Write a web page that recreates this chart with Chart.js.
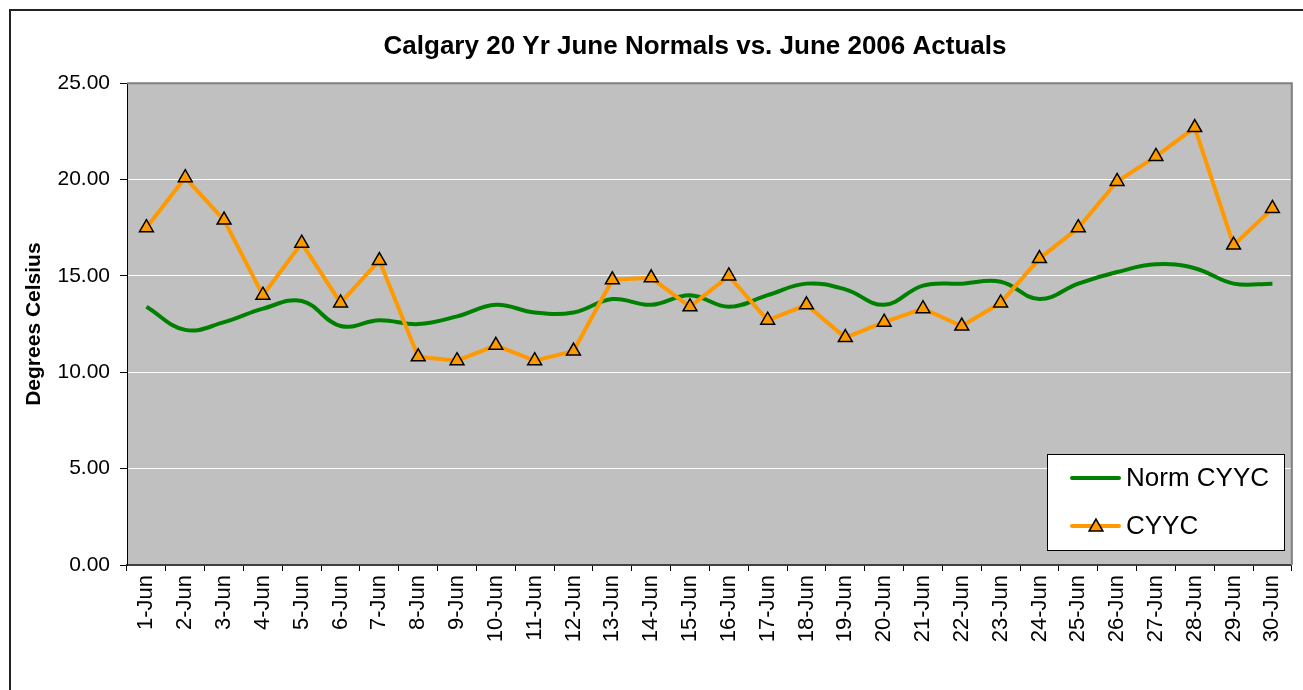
<!DOCTYPE html>
<html>
<head>
<meta charset="utf-8">
<script src="https://cdn.jsdelivr.net/npm/chart.js@4.4.0/dist/chart.umd.min.js"></script>
<style>
  html, body { margin: 0; padding: 0; background: #fff; }
  #wrap { width: 1303px; height: 690px; }
</style>
</head>
<body>
<div id="wrap"><canvas id="chart" width="1303" height="690"></canvas></div>
<script>
// Calgary June normals vs June 2006 actuals
const days = ['1-Jun','2-Jun','3-Jun','4-Jun','5-Jun','6-Jun','7-Jun','8-Jun','9-Jun','10-Jun',
  '11-Jun','12-Jun','13-Jun','14-Jun','15-Jun','16-Jun','17-Jun','18-Jun','19-Jun','20-Jun',
  '21-Jun','22-Jun','23-Jun','24-Jun','25-Jun','26-Jun','27-Jun','28-Jun','29-Jun','30-Jun'];

const normCYYC = [13.4, 12.2, 12.6, 13.3, 13.7, 12.4, 12.7, 12.5, 12.9, 13.5,
  13.1, 13.1, 13.8, 13.5, 14.0, 13.4, 14.0, 14.6, 14.3, 13.5,
  14.5, 14.6, 14.7, 13.8, 14.6, 15.2, 15.6, 15.4, 14.6, 14.6];

const actualCYYC = [17.5, 20.1, 17.9, 14.0, 16.7, 13.6, 15.8, 10.8, 10.6, 11.4,
  10.6, 11.1, 14.8, 14.9, 13.4, 15.0, 12.7, 13.5, 11.8, 12.6,
  13.3, 12.4, 13.6, 15.9, 17.5, 19.9, 21.2, 22.7, 16.6, 18.5];

const FONT = "'Liberation Sans', Arial, Helvetica, sans-serif";
const PLOT_BG = '#c0c0c0';
const GREEN = '#008000';
const ORANGE = '#ff9900';

// frame, plot background and in-plot legend (Excel style)
const excelFrame = {
  id: 'excelFrame',
  afterLayout(chart) {
    // Excel centres the title a bit right of the canvas centre
    const tb = chart.titleBlock;
    if (tb) { tb.left += 44; tb.right += 44; }
  },
  beforeDraw(chart) {
    const { ctx, chartArea: a } = chart;
    ctx.save();
    ctx.fillStyle = '#fff';
    ctx.fillRect(0, 0, chart.width, chart.height);
    ctx.strokeStyle = '#222';
    ctx.lineWidth = 2;
    ctx.strokeRect(10, 10, chart.width + 20, chart.height + 20);
    ctx.fillStyle = PLOT_BG;
    ctx.fillRect(a.left, a.top, a.right - a.left, a.bottom - a.top);
    ctx.restore();
  },
  afterDraw(chart) {
    const { ctx, chartArea: a } = chart;
    ctx.save();
    ctx.strokeStyle = '#808080';
    ctx.lineWidth = 2;
    ctx.beginPath();
    ctx.moveTo(a.left, a.top);
    ctx.lineTo(a.right, a.top);
    ctx.lineTo(a.right, a.bottom);
    ctx.stroke();

    // legend box
    const bx = 1047, by = 454, bw = 237, bh = 96;
    ctx.fillStyle = '#fff';
    ctx.fillRect(bx, by, bw, bh);
    ctx.strokeStyle = '#000';
    ctx.lineWidth = 1;
    ctx.strokeRect(bx + 0.5, by + 0.5, bw, bh);

    const rows = [
      { ds: chart.data.datasets[0], y: 478 },
      { ds: chart.data.datasets[1], y: 526 }
    ];
    rows.forEach(r => {
      ctx.strokeStyle = r.ds.borderColor;
      ctx.lineWidth = 4;
      ctx.lineCap = 'round';
      ctx.beginPath();
      ctx.moveTo(1072, r.y);
      ctx.lineTo(1119, r.y);
      ctx.stroke();
      if (r.ds.pointRadius > 0) {
        ctx.fillStyle = r.ds.pointBackgroundColor;
        ctx.strokeStyle = r.ds.pointBorderColor;
        ctx.lineWidth = r.ds.pointBorderWidth;
        Chart.helpers.drawPoint(ctx, { pointStyle: 'triangle', radius: 8, rotation: 0, borderWidth: r.ds.pointBorderWidth }, 1096, r.y + 1);
      }
      ctx.fillStyle = '#000';
      ctx.font = '26px ' + FONT;
      ctx.textBaseline = 'middle';
      ctx.textAlign = 'left';
      ctx.fillText(r.ds.label, 1126, r.y + 1);
    });
    ctx.restore();
  }
};

new Chart(document.getElementById('chart'), {
  type: 'line',
  data: {
    labels: days,
    datasets: [
      {
        label: 'Norm CYYC',
        data: normCYYC,
        borderColor: GREEN,
        borderWidth: 4,
        pointRadius: 0,
        tension: 0.4,
        order: 1
      },
      {
        label: 'CYYC',
        data: actualCYYC,
        borderColor: ORANGE,
        borderWidth: 4,
        pointStyle: 'triangle',
        pointRadius: 8,
        pointBackgroundColor: ORANGE,
        pointBorderColor: '#000',
        pointBorderWidth: 1.5,
        tension: 0,
        order: 0
      }
    ]
  },
  options: {
    responsive: false,
    animation: false,
    events: [],
    layout: { padding: { left: 10, right: 11, top: 0, bottom: 0 } },
    plugins: {
      legend: { display: false },
      tooltip: { enabled: false },
      title: {
        display: true,
        text: 'Calgary 20 Yr June Normals vs. June 2006 Actuals',
        color: '#000',
        font: { family: FONT, size: 26, weight: 'bold', lineHeight: 1.2 },
        padding: { top: 31, bottom: 21 }
      }
    },
    scales: {
      x: {
        type: 'category',
        offset: true,
        grid: { offset: true, drawOnChartArea: false, drawTicks: true, tickLength: 6, color: '#000', lineWidth: 1 },
        border: { color: '#404040', width: 2 },
        ticks: {
          autoSkip: false, minRotation: 90, maxRotation: 90, padding: 4,
          color: '#000', font: { family: FONT, size: 22 }
        },
        afterFit(s) { s.height = 125; }
      },
      y: {
        min: 0, max: 25,
        ticks: {
          stepSize: 5, padding: 10, color: '#000',
          font: { family: FONT, size: 21 },
          callback: v => v.toFixed(2)
        },
        grid: { color: '#fff', lineWidth: 1, tickLength: 7, tickColor: '#000' },
        border: { color: '#000', width: 1 },
        title: {
          display: true, text: 'Degrees Celsius', color: '#000',
          font: { family: FONT, size: 21, weight: 'bold', lineHeight: 1.2 },
          padding: { top: 12, bottom: 0 }
        },
        afterFit(s) { s.width = 117; }
      }
    }
  },
  plugins: [excelFrame]
});
</script>
</body>
</html>
